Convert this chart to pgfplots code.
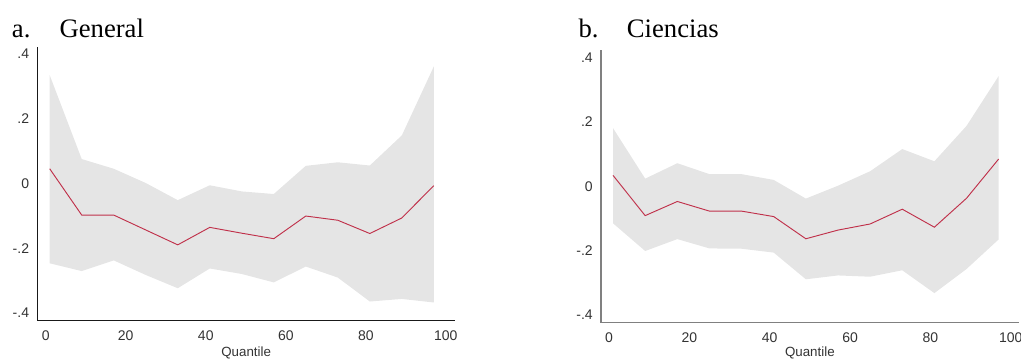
\documentclass[border=0pt]{standalone}
\usepackage{pgfplots}
\pgfplotsset{compat=1.18}
\usepackage{pgfplotstable}
\usepgfplotslibrary{fillbetween}
\usepackage{fontspec}
\setmainfont{Liberation Serif}
\newfontfamily\arial{Liberation Sans}
\definecolor{band}{HTML}{E5E5E5}
\definecolor{est}{HTML}{C0304A}
\definecolor{tickc}{HTML}{333333}

\pgfplotstableread{
q est lo hi
1 0.046 -0.246 0.335
9 -0.097 -0.270 0.076
17 -0.097 -0.237 0.046
25 -0.143 -0.282 0.002
33 -0.189 -0.323 -0.051
41 -0.135 -0.262 -0.005
49 -0.153 -0.279 -0.024
57 -0.170 -0.305 -0.032
65 -0.100 -0.256 0.055
73 -0.113 -0.290 0.066
81 -0.154 -0.364 0.056
89 -0.106 -0.356 0.149
97 -0.006 -0.367 0.362
}\general

\pgfplotstableread{
q est lo hi
1 0.034 -0.115 0.181
9 -0.091 -0.201 0.024
17 -0.047 -0.164 0.072
25 -0.077 -0.193 0.038
33 -0.077 -0.194 0.038
41 -0.094 -0.206 0.020
49 -0.163 -0.289 -0.038
57 -0.136 -0.277 0.002
65 -0.117 -0.281 0.047
73 -0.071 -0.261 0.116
81 -0.127 -0.332 0.078
89 -0.037 -0.257 0.188
97 0.085 -0.165 0.343
}\ciencias

\pgfplotsset{
  panel/.style={
    scale only axis,
    width=313.3pt,
    axis x line*=bottom,
    axis y line*=left,
    axis line style={-},
    major tick length=0pt,
    xtick={0,20,40,60,80,100},
    xticklabels={0,20,40,60,80,100},
    ytick={-0.4,-0.2,0,0.2,0.4},
    yticklabels={-.4,-.2,0,.2,.4},
    /pgf/number format/assume math mode=true,
    ticklabel style={font=\arial\fontsize{10.5}{12}\selectfont, text=tickc, inner sep=0pt},
    xticklabel style={anchor=north, yshift=-7.5pt},
    yticklabel style={anchor=east, xshift=-6pt},
    xlabel={Quantile},
    xlabel style={font=\arial\fontsize{10}{12}\selectfont, text=tickc, at={(axis description cs:0.5,0)}, anchor=base, yshift=-26.8pt, inner sep=0pt},
  }
}

\begin{document}
\begin{tikzpicture}
\begin{axis}[panel,
  at={(27.98pt,28.28pt)}, anchor=south west,
  height=205.2pt,
  xmin=-2.1, xmax=102.3, ymin=-0.422, ymax=0.423,
  axis line style={-, draw=black!90, line width=0.9pt}]
  \addplot[name path=hiA, draw=none, forget plot] table[x=q, y=hi] {\general};
  \addplot[name path=loA, draw=none, forget plot] table[x=q, y=lo] {\general};
  \addplot[fill=band, draw=none] fill between[of=hiA and loA];
  \addplot[est, line width=0.7pt] table[x=q, y=est] {\general};
\end{axis}

\begin{axis}[panel,
  at={(450.75pt,26.48pt)}, anchor=south west,
  height=204.5pt,
  xmin=-2.0, xmax=102.0, ymin=-0.424, ymax=0.424,
  xlabel style={yshift=1.6pt},
  axis line style={-, draw=black!50, line width=0.9pt}]
  \addplot[name path=hiB, draw=none, forget plot] table[x=q, y=hi] {\ciencias};
  \addplot[name path=loB, draw=none, forget plot] table[x=q, y=lo] {\ciencias};
  \addplot[fill=band, draw=none] fill between[of=hiB and loB];
  \addplot[est, line width=0.7pt] table[x=q, y=est] {\ciencias};
\end{axis}

\node[anchor=base west, inner sep=0pt, font=\fontsize{20}{24}\selectfont] at (8.8pt,240.5pt) {a.};
\node[anchor=base west, inner sep=0pt, font=\fontsize{20}{24}\selectfont] at (44.5pt,240.5pt) {General};
\node[anchor=base west, inner sep=0pt, font=\fontsize{20}{24}\selectfont] at (433.7pt,240.5pt) {b.};
\node[anchor=base west, inner sep=0pt, font=\fontsize{20}{24}\selectfont] at (470pt,240.5pt) {Ciencias};
\pgfresetboundingbox
\path[use as bounding box] (0,0) rectangle (765.75pt,268.5pt);
\end{tikzpicture}
\end{document}
